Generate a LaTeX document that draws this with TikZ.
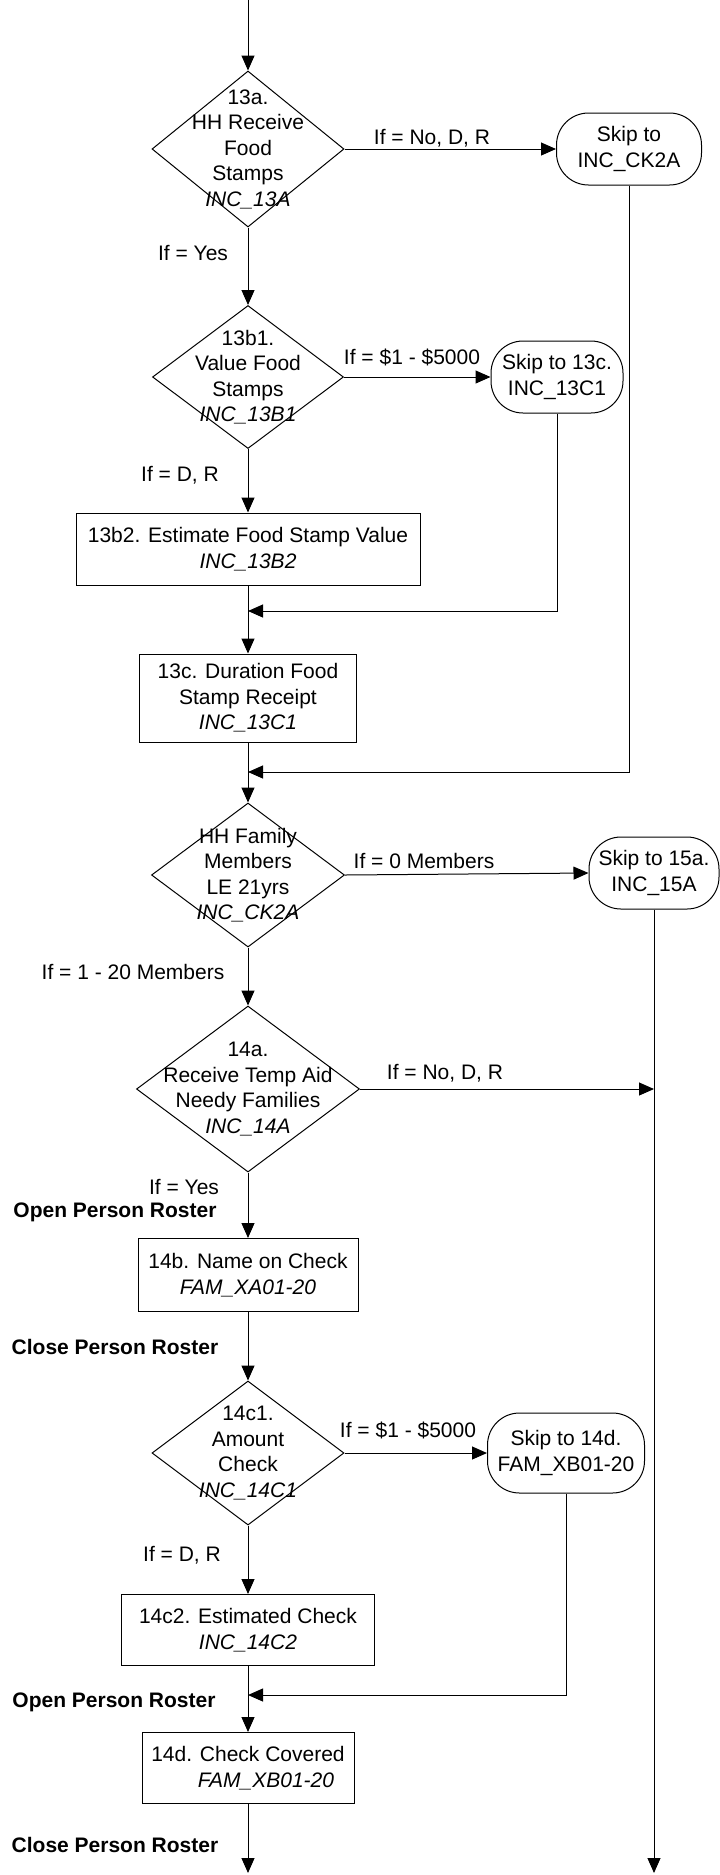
\documentclass[tikz,border=0pt]{standalone}
\usepackage{fontspec}
\setmainfont{Liberation Sans}
\usetikzlibrary{arrows.meta,shapes.geometric}
\begin{document}
\begin{tikzpicture}[x=1pt,y=-1pt,
  every node/.style={font=\fontsize{21}{25.5}\selectfont, inner sep=0pt, align=center},
  line/.style={line width=1pt, draw=black},
  arr/.style={line, -{Triangle[length=15pt,width=13pt]}},
  dia/.style={shape=diamond, draw, line width=1pt, inner sep=0pt},
  box/.style={draw, line width=1pt, rectangle},
  term/.style={draw, line width=1pt, rounded corners=32pt},
  blab/.style={font=\fontsize{21}{25.5}\selectfont\bfseries}
]
\useasboundingbox (0,0) rectangle (720,1875);

% decisions and steps
\node[dia, minimum width=192pt, minimum height=156pt] (d13a) at (248,149) {};
\node (d13at) at (248,149) {13a.\\HH Receive\\Food\\Stamps\\\textit{INC\_13A}};
\node[term, minimum width=145pt, minimum height=72pt] (s1) at (629,149) {Skip to\\INC\_CK2A};

\node[dia, minimum width=191pt, minimum height=143pt] (d13b1) at (248,377) {};
\node (d13b1t) at (248,377) {13b1.\\Value Food\\Stamps\\\textit{INC\_13B1}};
\node[term, minimum width=132pt, minimum height=72pt] (s2) at (557,377) {Skip to 13c.\\INC\_13C1};

\node[box, minimum width=344pt, minimum height=72pt] (r13b2) at (248,549) {13b2. Estimate Food Stamp Value\\\textit{INC\_13B2}};
\node[box, minimum width=217pt, minimum height=88pt] (r13c) at (248,698) {13c. Duration Food\\Stamp Receipt\\\textit{INC\_13C1}};

\node[dia, minimum width=193pt, minimum height=144pt] (dck) at (248,875) {};
\node (dckt) at (248,875) {HH Family\\Members\\LE 21yrs\\\textit{INC\_CK2A}};
\node[term, minimum width=130pt, minimum height=72pt] (s15) at (654,873) {Skip to 15a.\\INC\_15A};

\node[dia, minimum width=223pt, minimum height=166pt] (d14a) at (248,1089) {};
\node (d14at) at (248,1089) {14a.\\Receive Temp Aid\\Needy Families\\\textit{INC\_14A}};

\node[box, minimum width=220pt, minimum height=73pt] (r14b) at (248,1275) {14b. Name on Check\\\textit{FAM\_XA01-20}};

\node[dia, minimum width=192pt, minimum height=144pt] (d14c1) at (248,1453) {};
\node (d14c1t) at (248,1453) {14c1.\\Amount\\Check\\\textit{INC\_14C1}};
\node[term, minimum width=157pt, minimum height=80pt] (s3) at (566,1453) {Skip to 14d.\\FAM\_XB01-20};

\node[box, minimum width=253pt, minimum height=71pt] (r14c2) at (248,1630) {14c2. Estimated Check\\\textit{INC\_14C2}};
\node[box, minimum width=212pt, minimum height=71pt] (r14d) at (248,1768) {14d. Check Covered\\\hspace*{36pt}\textit{FAM\_XB01-20}};

% free ends and junctions
\coordinate (top) at (248,0);
\coordinate (j1) at (248,611);
\coordinate (j2) at (248,772);
\coordinate (m1) at (654,1089);
\coordinate (j3) at (248,1695);
\coordinate (endm) at (248,1873);
\coordinate (endr) at (654,1873);

% connectors
\draw[arr] (top) -- (d13a.north);
\draw[arr] (d13a.east) -- (s1.west);
\draw[arr] (d13a.south) -- (d13b1.north);
\draw[arr] (d13b1.east) -- (s2.west);
\draw[arr] (d13b1.south) -- (r13b2.north);
\draw[arr] (r13b2.south) -- (r13c.north);
\draw[arr] (s2.south) |- (j1);
\draw[arr] (r13c.south) -- (dck.north);
\draw[arr] (s1.south) |- (j2);
\draw[arr] (dck.east) -- (s15.west);
\draw[arr] (dck.south) -- (d14a.north);
\draw[arr] (s15.south) -- (endr);
\draw[arr] (d14a.east) -- (m1);
\draw[arr] (d14a.south) -- (r14b.north);
\draw[arr] (r14b.south) -- (d14c1.north);
\draw[arr] (d14c1.east) -- (s3.west);
\draw[arr] (d14c1.south) -- (r14c2.north);
\draw[arr] (r14c2.south) -- (r14d.north);
\draw[arr] (s3.south) |- (j3);
\draw[arr] (r14d.south) -- (endm);

% labels
\node (l1) at (432,138) {If = No, D, R};
\node (l2) at (193,253) {If = Yes};
\node (l3) at (412,357) {If = \$1 - \$5000};
\node (l4) at (180,475) {If = D, R};
\node (l5) at (424,861) {If = 0 Members};
\node (l6) at (133,972) {If = 1 - 20 Members};
\node (l7) at (445,1073) {If = No, D, R};
\node (l8) at (184,1187) {If = Yes};
\node[blab] (l9) at (115,1212) {Open Person Roster};
\node[blab] (l10) at (115,1347) {Close Person Roster};
\node (l11) at (408,1430) {If = \$1 - \$5000};
\node (l12) at (182,1555) {If = D, R};
\node[blab] (l13) at (114,1702) {Open Person Roster};
\node[blab] (l14) at (115,1845) {Close Person Roster};
\end{tikzpicture}
\end{document}
